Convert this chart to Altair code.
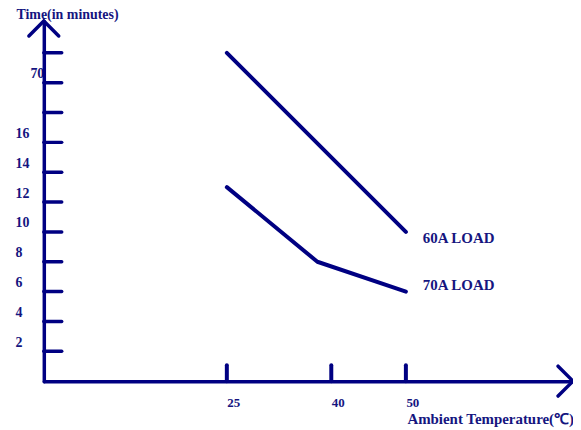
import altair as alt
import pandas as pd

NAVY = "#000082"
TEXT = "#15157f"
FONT = "Liberation Serif"

# ---- data ----
series_names = ["60A LOAD", "70A LOAD"]
temps_60 = [25, 50]
times_60 = [22, 10]
temps_70 = [25, 38, 50]
times_70 = [13, 8, 6]
y_tick_values = [2, 4, 6, 8, 10, 12, 14, 16, 18, 20, 22]
y_label_values = [2, 4, 6, 8, 10, 12, 14, 16, 20]
y_label_override = {20: "70"}
x_tick_values = [25, 40, 50]
x_domain = [-1.3, 25, 40, 50, 72.4]
x_range = [0, 184, 289, 364, 532]
y_top = 24.13

W, H = 532, 362

lines_df = pd.DataFrame({
    "temp": temps_60 + temps_70,
    "time": times_60 + times_70,
    "series": [series_names[0]] * len(temps_60) + [series_names[1]] * len(temps_70),
})
ytick_df = pd.DataFrame({"time": y_tick_values})
xtick_df = pd.DataFrame({"temp": x_tick_values})
arrow_y_df = pd.DataFrame({"temp": [x_domain[0]], "time": [y_top]})
arrow_x_df = pd.DataFrame({"temp": [x_domain[-1]], "time": [0]})
lab60 = pd.DataFrame({"temp": [temps_60[-1]], "time": [times_60[-1]], "series": [series_names[0]]})
lab70 = pd.DataFrame({"temp": [temps_70[-1]], "time": [times_70[-1]], "series": [series_names[1]]})

xs = alt.Scale(domain=x_domain, range=x_range, zero=False, nice=False)
ys = alt.Scale(domain=[0, y_top], zero=False, nice=False)

label_expr = " : ".join(
    [f"datum.value == {k} ? '{v}'" for k, v in y_label_override.items()] + ["datum.label"]
)

x_axis = alt.Axis(
    values=x_tick_values, title="Ambient Temperature(℃)", ticks=False, tickSize=0, grid=False,
    domain=True, domainColor=NAVY, domainWidth=3.5, domainCap="round",
    labelAlign="left", labelBaseline="middle", labelPadding=21, labelFlush=False, labelOverlap=False,
    labelFont=FONT, labelFontWeight="bold", labelFontSize=13, labelColor=TEXT,
    titleX=365, titleY=43, titleAlign="left", titleBaseline="alphabetic",
    titleFont=FONT, titleFontWeight="bold", titleFontSize=15, titleColor=TEXT,
)
y_axis = alt.Axis(
    values=y_label_values, labelExpr=label_expr, title="Time(in minutes)", ticks=False, tickSize=0, grid=False,
    domain=True, domainColor=NAVY, domainWidth=3.5, domainCap="round",
    labelAlign="left", labelBaseline="middle", labelOffset=-9,
    labelPadding={"condition": {"test": "datum.value == 20", "value": 14}, "value": 29},
    labelFlush=False, labelOverlap=False,
    labelFont=FONT, labelFontWeight="bold", labelFontSize=14, labelColor=TEXT,
    titleAngle=0, titleX=-28, titleY=-3, titleAlign="left", titleBaseline="alphabetic",
    titleFont=FONT, titleFontWeight="bold", titleFontSize=14, titleColor=TEXT,
)

X = alt.X("temp:Q", scale=xs, axis=x_axis)
Y = alt.Y("time:Q", scale=ys, axis=y_axis)

lines = alt.Chart(lines_df).mark_line(color=NAVY, strokeWidth=4, strokeCap="round", strokeJoin="round").encode(
    x=X, y=Y, detail="series:N",
)

yticks = alt.Chart(ytick_df).mark_rule(color=NAVY, strokeWidth=3.5, strokeCap="round").encode(
    y=Y, x=alt.value(0), x2=alt.value(18),
)
xticks = alt.Chart(xtick_df).mark_rule(color=NAVY, strokeWidth=4, strokeCap="round").encode(
    x=X, y=alt.value(H - 16), y2=alt.value(H),
)
arrow_y = alt.Chart(arrow_y_df).mark_point(
    shape="M-1,1L0,0L1,1", size=900, filled=False, color=NAVY, strokeWidth=3.5, opacity=1,
    strokeCap="round", strokeJoin="miter",
).encode(x=X, y=Y)
arrow_x = alt.Chart(arrow_x_df).mark_point(
    shape="M-1,-1L0,0L-1,1", size=900, filled=False, color=NAVY, strokeWidth=3.5, opacity=1,
    strokeCap="round", strokeJoin="miter",
).encode(x=X, y=Y)

text_kw = dict(align="left", baseline="middle", font=FONT, fontWeight="bold", fontSize=15, color=TEXT, dx=17)
t60 = alt.Chart(lab60).mark_text(dy=6, **text_kw).encode(x=X, y=Y, text="series:N")
t70 = alt.Chart(lab70).mark_text(dy=-7, **text_kw).encode(x=X, y=Y, text="series:N")

chart = alt.layer(lines, yticks, xticks, arrow_y, arrow_x, t60, t70).properties(
    width=W, height=H,
    autosize=alt.AutoSizeParams(type="none"),
    padding={"left": 36, "top": 12, "right": 0, "bottom": 48},
    background="white",
).configure_view(stroke=None)

chart.save("out.html", embed_options={"renderer": "svg", "actions": False})
